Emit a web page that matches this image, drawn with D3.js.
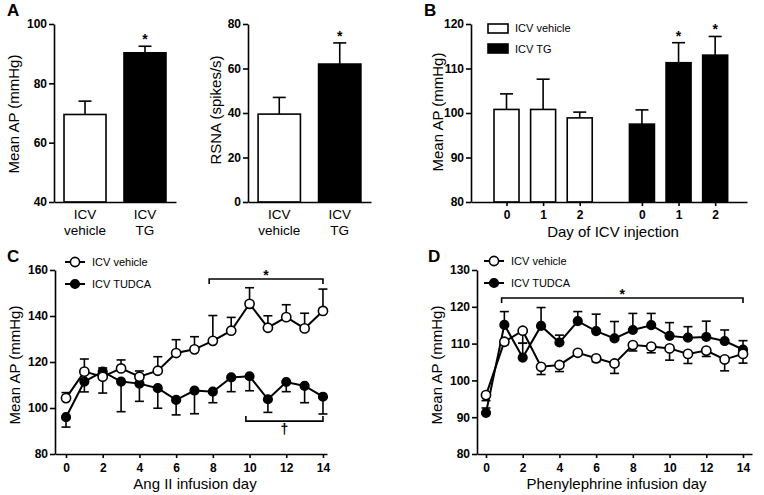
<!DOCTYPE html>
<html><head><meta charset="utf-8">
<script src="https://cdn.jsdelivr.net/npm/d3@7"></script>
<style>body{margin:0;background:#fff}svg{display:block}</style>
</head><body><svg id="c" width="764" height="495"></svg>
<script>
// ---------- DATA ----------
const aCats = ["ICV vehicle", "ICV TG"];
const aCatLines = [["ICV", "vehicle"], ["ICV", "TG"]];
const aMAP = [69.5, 90.3];
const aMAPErr = [4.5, 2.2];
const aMAPTicks = [40, 60, 80, 100];
const aRSNA = [39.5, 62.0];
const aRSNAErr = [7.5, 9.5];
const aRSNATicks = [0, 20, 40, 60, 80];
const aSig = [false, true];

const bDayLabels = ["0", "1", "2"];
const bVehicle = [100.8, 100.8, 98.9];
const bVehicleErr = [3.5, 6.8, 1.3];
const bTG = [97.5, 111.3, 113.0];
const bTGErr = [3.2, 4.5, 4.2];
const bTGSig = [false, true, true];
const bTicks = [80, 90, 100, 110, 120];

const days = [0,1,2,3,4,5,6,7,8,9,10,11,12,13,14];
const cVehicle = [104.3,115.8,113.6,117.2,113.6,116.2,123.9,125.5,129.2,133.6,145.3,134.9,139.5,134.6,142.2];
const cVehicleErr = [2.4,5.5,3.8,3.7,2.5,6.1,5.8,5.5,11.0,5.8,7.0,5.2,5.4,6.6,9.5];
const cTUDCA = [96.0,111.5,115.8,111.5,110.6,108.6,103.5,107.6,107.1,113.3,113.8,103.8,111.3,109.6,104.9];
const cTUDCAErr = [4.3,4.5,9.3,13.1,7.7,8.7,6.5,10.1,4.8,6.2,6.3,5.7,4.2,7.3,7.5];
const cYTicks = [80, 100, 120, 140, 160];
const cXTicks = [0, 2, 4, 6, 8, 10, 12, 14];
const cStarSpan = [7.8, 14];   // days covered by the * bracket
const cDaggerSpan = [9.8, 14]; // days covered by the † bracket

const dVehicle = [96.0,110.5,113.5,103.7,104.2,107.5,106.0,104.6,109.6,109.2,108.7,107.2,108.1,105.7,107.2];
const dVehicleErr = [1.5,0.8,3.4,2.1,1.8,0.5,0.9,2.7,1.6,1.7,3.2,2.6,1.6,3.1,2.5];
const dTUDCA = [91.2,115.1,106.2,114.8,110.3,116.1,113.4,111.4,113.7,115.0,112.1,111.6,111.8,110.7,108.4];
const dTUDCAErr = [1.3,3.6,3.9,5.0,2.0,2.6,4.6,4.6,4.5,3.2,3.6,3.0,4.3,3.0,2.4];
const dYTicks = [80, 90, 100, 110, 120, 130];
const dXTicks = [0, 2, 4, 6, 8, 10, 12, 14];
const dStarSpan = [0.85, 14];

// ---------- HELPERS ----------
const F = 'Arial, "Liberation Sans", Helvetica, sans-serif';
const svg = d3.select("#c");

function styleAxis(g) {
  g.selectAll("path.domain").attr("stroke", "#000").attr("stroke-width", 1.6);
  g.selectAll(".tick line").attr("stroke", "#000").attr("stroke-width", 1.6);
  g.selectAll(".tick text").attr("font-family", F).attr("font-size", 12)
    .attr("font-weight", "bold").attr("fill", "#000");
}
function txt(x, y, s, size, opts = {}) {
  const t = svg.append("text").attr("x", x).attr("y", y).text(s)
    .attr("font-family", F).attr("font-size", size).attr("fill", "#000")
    .attr("font-weight", opts.bold ? "bold" : "normal")
    .attr("text-anchor", opts.anchor || "start");
  if (opts.rot) t.attr("transform", `rotate(-90,${x},${y})`);
  return t;
}
function errBar(g, x, y0, y1, cap) {
  g.append("line").attr("x1", x).attr("x2", x).attr("y1", y0).attr("y2", y1)
    .attr("stroke", "#000").attr("stroke-width", 1.6);
  g.append("line").attr("x1", x - cap).attr("x2", x + cap).attr("y1", y1).attr("y2", y1)
    .attr("stroke", "#000").attr("stroke-width", 1.6);
}

// ---------- PANEL A (two bar charts) ----------
function barPanel(x0, x1, yTop, yBot, domain, ticks, vals, errs, title, titleX, titleY) {
  const y = d3.scaleLinear().domain(domain).range([yBot, yTop]);
  const x = d3.scaleBand().domain(aCats).range([x0, x1]).paddingInner(0.3).paddingOuter(0.167);
  const g = svg.append("g");
  aCats.forEach((c, i) => {
    const cx = x(c) + x.bandwidth() / 2;
    errBar(g, cx, y(vals[i]), y(vals[i] + errs[i]), 6.5);
    g.append("rect").attr("x", x(c)).attr("y", y(vals[i]))
      .attr("width", x.bandwidth()).attr("height", y(domain[0]) - y(vals[i]))
      .attr("fill", i === 0 ? "#fff" : "#000").attr("stroke", "#000").attr("stroke-width", 1.6);
    if (aSig[i]) txt(cx, y(vals[i] + errs[i]) - 2, "*", 14, { bold: true, anchor: "middle" });
    aCatLines[i].forEach((s, k) => txt(cx, yBot + 17 + k * 16, s, 13.5, { anchor: "middle" }));
  });
  svg.append("g").attr("transform", `translate(0,${yBot})`)
    .call(d3.axisBottom(x).tickSize(0).tickFormat("")).call(styleAxis);
  svg.append("g").attr("transform", `translate(${x0},0)`)
    .call(d3.axisLeft(y).tickValues(ticks).tickSize(5).tickSizeOuter(0).tickPadding(2)).call(styleAxis);
  txt(titleX, titleY, title, 15, { rot: true, anchor: "middle" });
}
barPanel(54, 176, 24, 202, [40, 100], aMAPTicks, aMAP, aMAPErr, "Mean AP (mmHg)", 19, 114);
barPanel(248, 371, 24, 202, [0, 80], aRSNATicks, aRSNA, aRSNAErr, "RSNA (spikes/s)", 221, 110);
txt(7, 16, "A", 17, { bold: true });

// ---------- PANEL B ----------
(function () {
  const groupOffset = 3.7;
  const xB = d3.scaleLinear().domain([-0.97, 6.57]).range([471, 747]);
  const yB = d3.scaleLinear().domain([80, 120]).range([202, 24]);
  const bw = 25;
  const groups = [
    { vals: bVehicle, errs: bVehicleErr, fill: "#fff", sig: [false, false, false] },
    { vals: bTG, errs: bTGErr, fill: "#000", sig: bTGSig }
  ];
  const tickPos = [], tickLab = [];
  const g = svg.append("g");
  groups.forEach((grp, gi) => {
    grp.vals.forEach((v, i) => {
      const p = i + gi * groupOffset;
      tickPos.push(p); tickLab.push(bDayLabels[i]);
      const cx = xB(p);
      errBar(g, cx, yB(v), yB(v + grp.errs[i]), 6.5);
      g.append("rect").attr("x", cx - bw / 2).attr("y", yB(v)).attr("width", bw)
        .attr("height", yB(80) - yB(v)).attr("fill", grp.fill)
        .attr("stroke", "#000").attr("stroke-width", 1.6);
      if (grp.sig[i]) txt(cx, yB(v + grp.errs[i]) - 2, "*", 14, { bold: true, anchor: "middle" });
    });
  });
  svg.append("g").attr("transform", "translate(0,202)")
    .call(d3.axisBottom(xB).tickValues(tickPos).tickFormat((d, i) => tickLab[i])
      .tickSize(4).tickSizeOuter(0).tickPadding(4)).call(styleAxis);
  svg.append("g").attr("transform", "translate(471,0)")
    .call(d3.axisLeft(yB).tickValues(bTicks).tickSize(5).tickSizeOuter(0).tickPadding(2)).call(styleAxis);
  // legend
  svg.append("rect").attr("x", 488).attr("y", 24).attr("width", 20).attr("height", 9)
    .attr("fill", "#fff").attr("stroke", "#000").attr("stroke-width", 1.6);
  svg.append("rect").attr("x", 488).attr("y", 44).attr("width", 20).attr("height", 9)
    .attr("fill", "#000").attr("stroke", "#000").attr("stroke-width", 1.6);
  txt(515, 32, "ICV vehicle", 11);
  txt(515, 53, "ICV TG", 11);
  txt(443, 112, "Mean AP (mmHg)", 15, { rot: true, anchor: "middle" });
  txt(613, 237, "Day of ICV injection", 15, { anchor: "middle" });
  txt(424, 16, "B", 17, { bold: true });
})();

// ---------- LINE PANELS (C, D) ----------
function linePanel(cfg) {
  const x = d3.scaleLinear().domain(cfg.xDomain).range(cfg.xRange);
  const y = d3.scaleLinear().domain(cfg.yDomain).range([454, 270]);
  const g = svg.append("g");
  const line = d3.line().x((d, i) => x(days[i])).y(d => y(d));
  const series = [
    { vals: cfg.filled, errs: cfg.filledErr, dir: cfg.filledDir, open: false },
    { vals: cfg.open, errs: cfg.openErr, dir: cfg.openDir, open: true }
  ];
  series.forEach(s => {
    s.vals.forEach((v, i) => errBar(g, x(days[i]), y(v), y(v + s.dir[i] * s.errs[i]), 4.5));
  });
  series.forEach(s => {
    g.append("path").attr("d", line(s.vals)).attr("fill", "none")
      .attr("stroke", "#000").attr("stroke-width", 2);
  });
  series.forEach(s => {
    g.selectAll(null).data(s.vals).enter().append("circle")
      .attr("cx", (d, i) => x(days[i])).attr("cy", d => y(d))
      .attr("r", s.open ? 4.6 : 4.3)
      .attr("fill", s.open ? "#fff" : "#000").attr("stroke", "#000").attr("stroke-width", 1.6);
  });
  svg.append("g").attr("transform", "translate(0,454)")
    .call(d3.axisBottom(x).tickValues(cfg.xTicks).tickSize(4).tickSizeOuter(0).tickPadding(5)).call(styleAxis);
  svg.append("g").attr("transform", `translate(${cfg.xRange[0]},0)`)
    .call(d3.axisLeft(y).tickValues(cfg.yTicks).tickSize(5).tickSizeOuter(0).tickPadding(2)).call(styleAxis);
  cfg.brackets.forEach(b => {
    const xa = x(b.span[0]), xb = x(b.span[1]), yy = y(b.level);
    g.append("path").attr("d", `M${xa},${yy + b.dir * 5}V${yy}H${xb}V${yy + b.dir * 5}`)
      .attr("fill", "none").attr("stroke", "#000").attr("stroke-width", 1.6);
    txt((xa + xb) / 2, yy + b.dy, b.sym, 14, { bold: true, anchor: "middle" });
  });
  const lx = cfg.legX, ly = cfg.legY;
  [{ open: true, label: "ICV vehicle", yy: ly }, { open: false, label: cfg.label2, yy: ly + 22 }].forEach(L => {
    svg.append("line").attr("x1", lx).attr("x2", lx + 20).attr("y1", L.yy).attr("y2", L.yy)
      .attr("stroke", "#000").attr("stroke-width", 2);
    svg.append("circle").attr("cx", lx + 10).attr("cy", L.yy).attr("r", L.open ? 4.6 : 4.3)
      .attr("fill", L.open ? "#fff" : "#000").attr("stroke", "#000").attr("stroke-width", 1.6);
    txt(lx + 27, L.yy + 4, L.label, 11);
  });
  txt(cfg.titleX, 365, "Mean AP (mmHg)", 15, { rot: true, anchor: "middle" });
  txt((cfg.xRange[0] + cfg.xRange[1]) / 2 + cfg.xtOff, 489, cfg.xTitle, 15, { anchor: "middle" });
  txt(cfg.letterX, 262, cfg.letter, 17, { bold: true });
}

linePanel({
  xDomain: [-0.6, 14.22], xRange: [55, 327], yDomain: [80, 160],
  xTicks: cXTicks, yTicks: cYTicks,
  open: cVehicle, openErr: cVehicleErr, openDir: days.map(() => 1),
  filled: cTUDCA, filledErr: cTUDCAErr, filledDir: days.map(() => -1),
  brackets: [
    { span: cStarSpan, level: 156.1, dir: 1, sym: "*", dy: 1 },
    { span: cDaggerSpan, level: 94.3, dir: -1, sym: "\u2020", dy: 13 }
  ],
  legX: 65, legY: 262, label2: "ICV TUDCA",
  titleX: 20, xTitle: "Ang II infusion day", xtOff: 4, letter: "C", letterX: 7
});

linePanel({
  xDomain: [-0.49, 14.49], xRange: [477, 752], yDomain: [80, 130],
  xTicks: dXTicks, yTicks: dYTicks,
  open: dVehicle, openErr: dVehicleErr, openDir: days.map(() => -1),
  filled: dTUDCA, filledErr: dTUDCAErr, filledDir: days.map(() => 1),
  brackets: [{ span: dStarSpan, level: 122.4, dir: 1, sym: "*", dy: 1 }],
  legX: 484, legY: 261, label2: "ICV TUDCA",
  titleX: 442, xTitle: "Phenylephrine infusion day", xtOff: 2, letter: "D", letterX: 428
});
</script></body></html>
